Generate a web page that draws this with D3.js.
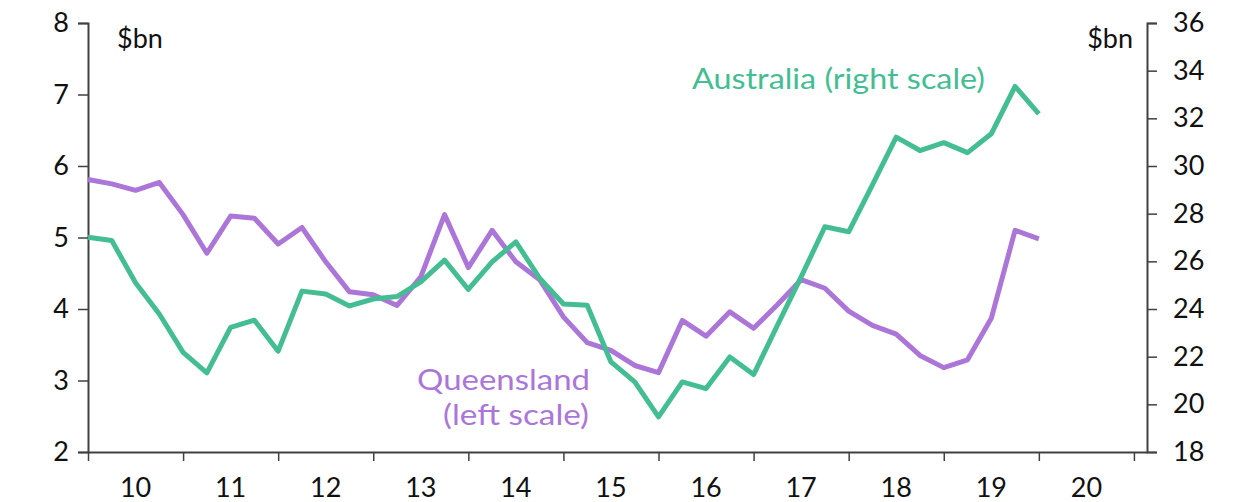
<!DOCTYPE html>
<html>
<head>
<meta charset="utf-8">
<script src="https://cdn.jsdelivr.net/npm/d3@7"></script>
<style>
  body { margin: 0; background: #fff; }
  svg text { font-family: "Lato", "DejaVu Sans", sans-serif; }
</style>
</head>
<body>
<svg id="chart"></svg>
<script>
// chart size
const W = 1235, H = 502;
var margin = {top: 23, right: 88, bottom: 50, left: 88},
    width = W - margin.left - margin.right,
    height = H - margin.top - margin.bottom;

// year labels (centred between the yearly ticks)
const years = ["10","11","12","13","14","15","16","17","18","19","20"];
const leftTicks = [2, 3, 4, 5, 6, 7, 8];
const rightTicks = [18, 20, 22, 24, 26, 28, 30, 32, 34, 36];

// quarterly values
const queensland = [5.81, 5.75, 5.66, 5.77, 5.32, 4.78, 5.30, 5.27, 4.91, 5.14,
  4.66, 4.24, 4.20, 4.05, 4.45, 5.32, 4.58, 5.10, 4.66, 4.41,
  3.89, 3.53, 3.42, 3.21, 3.11, 3.84, 3.62, 3.96, 3.73, 4.06,
  4.41, 4.29, 3.97, 3.77, 3.65, 3.35, 3.18, 3.29, 3.87, 5.10, 4.98];
const australia = [27.01, 26.87, 25.10, 23.79, 22.18, 21.32, 23.23, 23.53, 22.23, 24.75,
  24.63, 24.13, 24.42, 24.52, 25.14, 26.05, 24.82, 25.98, 26.82, 25.29,
  24.21, 24.16, 21.78, 20.94, 19.47, 20.94, 20.66, 21.99, 21.25, 23.31,
  25.35, 27.45, 27.24, 29.21, 31.21, 30.65, 30.98, 30.56, 31.35, 33.34, 32.19];

const purple = "#ab76d7", green = "#44bd93", axisCol = "#404040";

var svg = d3.select("#chart")
    .attr("width", W)
    .attr("height", H)
  .append("g")
    .attr("transform", "translate(" + margin.left + "," + margin.top + ")");

// x: quarter index, 4 quarters per year
var x = d3.scaleLinear()
  .domain([0, 44.55])
  .range([0, width]);

var yL = d3.scaleLinear().domain([2, 8]).range([height, 0]);
var yR = d3.scaleLinear().domain([18, 36]).range([height, 0]);

// X axis: ticks at year boundaries, labels between
var xAxis = svg.append("g")
  .attr("transform", "translate(0," + height + ")")
  .call(d3.axisBottom(x)
    .tickValues(d3.range(0, 45, 4))
    .tickSize(9)
    .tickSizeOuter(0)
    .tickFormat(""));
xAxis.select(".domain").attr("stroke", axisCol).attr("stroke-width", 2);
xAxis.selectAll(".tick line").attr("stroke", axisCol).attr("stroke-width", 1.5);

svg.append("g").selectAll("text")
  .data(years)
  .enter()
  .append("text")
    .attr("x", function(d, i) { return x(i * 4 + 2); })
    .attr("y", height + 45)
    .attr("text-anchor", "middle")
    .attr("font-size", 27)
    .attr("fill", "#111")
    .text(function(d) { return d; });

// left Y axis
var leftAx = svg.append("g")
  .call(d3.axisLeft(yL).tickValues(leftTicks).tickFormat(d3.format("d"))
    .tickSize(10).tickSizeOuter(10).tickPadding(9));
leftAx.select(".domain").attr("stroke", axisCol).attr("stroke-width", 2);
leftAx.selectAll(".tick line").attr("stroke", axisCol).attr("stroke-width", 1.5);
leftAx.selectAll("text").attr("font-size", 27).attr("fill", "#111")
  .style("font-family", "Lato, 'DejaVu Sans', sans-serif");

// right Y axis
var rightAx = svg.append("g")
  .attr("transform", "translate(" + width + ",0)")
  .call(d3.axisRight(yR).tickValues(rightTicks).tickFormat(d3.format("d"))
    .tickSize(10).tickSizeOuter(10).tickPadding(16));
rightAx.select(".domain").attr("stroke", axisCol).attr("stroke-width", 2);
rightAx.selectAll(".tick line").attr("stroke", axisCol).attr("stroke-width", 1.5);
rightAx.selectAll("text").attr("font-size", 27).attr("fill", "#111")
  .style("font-family", "Lato, 'DejaVu Sans', sans-serif");

// unit labels
svg.append("text").attr("x", 29).attr("y", 25).attr("font-size", 27).attr("fill", "#111").text("$bn");
svg.append("text").attr("x", width - 14).attr("y", 25).attr("text-anchor", "end")
  .attr("font-size", 27).attr("fill", "#111").text("$bn");

// lines
var lineL = d3.line()
  .x(function(d, i) { return x(i); })
  .y(function(d) { return yL(d); });
var lineR = d3.line()
  .x(function(d, i) { return x(i); })
  .y(function(d) { return yR(d); });

svg.append("path")
  .datum(queensland)
  .attr("fill", "none")
  .attr("stroke", purple)
  .attr("stroke-width", 5)
  .attr("stroke-linejoin", "round")
  .attr("d", lineL);

svg.append("path")
  .datum(australia)
  .attr("fill", "none")
  .attr("stroke", green)
  .attr("stroke-width", 5)
  .attr("stroke-linejoin", "round")
  .attr("d", lineR);

// series labels (stretched a little to the width of the original face)
svg.append("text")
  .attr("x", 604).attr("y", 66)
  .attr("font-size", 28).attr("fill", green)
  .attr("textLength", 293).attr("lengthAdjust", "spacingAndGlyphs")
  .text("Australia (right scale)");

var ql = svg.append("text")
  .attr("font-size", 28).attr("fill", purple);
ql.append("tspan").attr("x", 329).attr("y", 367)
  .attr("textLength", 173).attr("lengthAdjust", "spacingAndGlyphs").text("Queensland");
ql.append("tspan").attr("x", 355).attr("y", 402)
  .attr("textLength", 146).attr("lengthAdjust", "spacingAndGlyphs").text("(left scale)");
</script>
</body>
</html>
